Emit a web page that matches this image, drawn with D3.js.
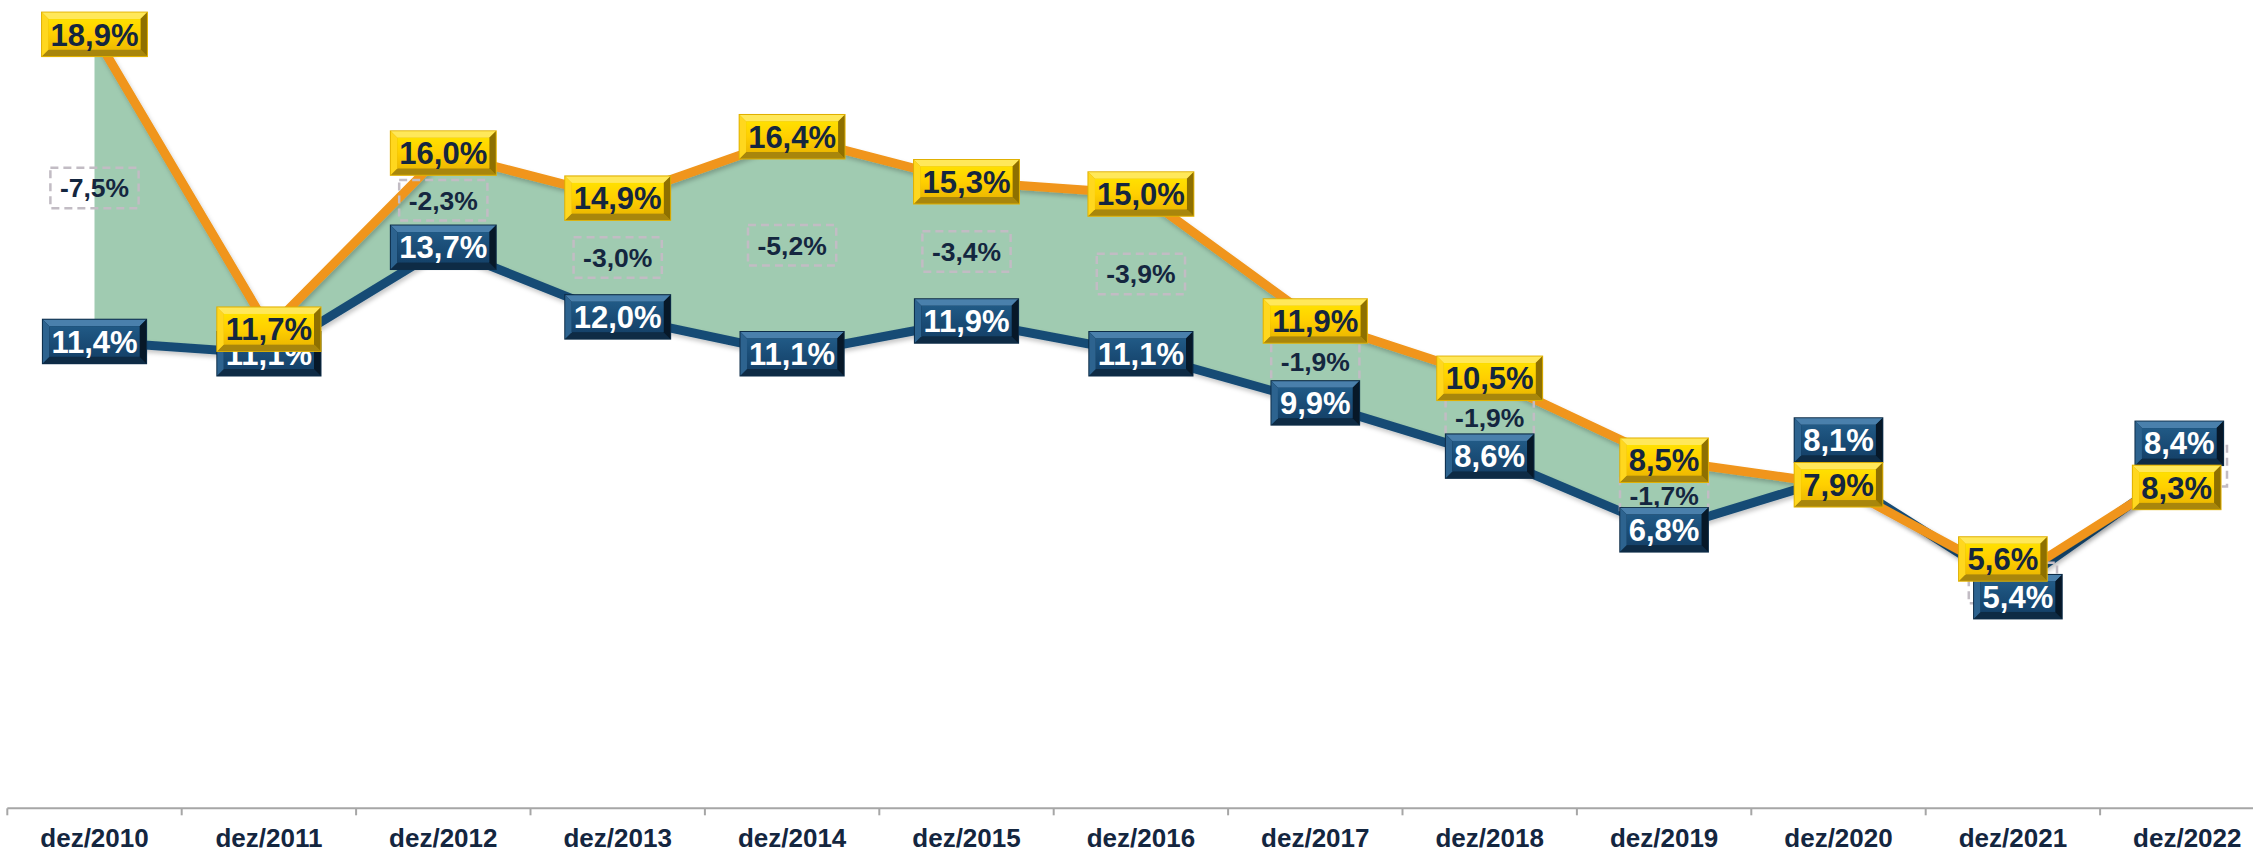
<!DOCTYPE html>
<html>
<head>
<meta charset="utf-8">
<script src="https://cdn.jsdelivr.net/npm/d3@7"></script>
<style>
  html, body { margin: 0; padding: 0; background: #ffffff; }
  svg { display: block; }
  text { font-family: "Liberation Sans", Arial, sans-serif; font-weight: bold; }
</style>
</head>
<body>
<svg id="chart" width="2253" height="851"></svg>
<script>
// ---------------- data ----------------
const categories = ["dez/2010","dez/2011","dez/2012","dez/2013","dez/2014","dez/2015","dez/2016",
                    "dez/2017","dez/2018","dez/2019","dez/2020","dez/2021","dez/2022"];
const seriesOrange = [18.9, 11.7, 16.0, 14.9, 16.4, 15.3, 15.0, 11.9, 10.5, 8.5, 7.9, 5.6, 8.3];
const seriesBlue   = [11.4, 11.1, 13.7, 12.0, 11.1, 11.9, 11.1,  9.9,  8.6, 6.8, 8.1, 5.4, 8.4];
const seriesDiff   = [-7.5, -0.6, -2.3, -3.0, -5.2, -3.4, -3.9, -1.9, -1.9, -1.7, 0.2, -0.2, 0.1];
const yDomain = [0, 20];

// manual label nudges (layout only, like dragged Excel labels), in px
const blueNudge   = {10: [0, -36.6], 11: [5, 9.5], 12: [-8, -21]};
const orangeNudge = {11: [-10, -20], 12: [-10.6, 19]};

// ---------------- layout ----------------
const W = 2253, H = 851;
const axisY = 808.3;
const svg = d3.select("#chart");

const x = d3.scaleBand().domain(categories).range([7.3, 7.3 + 174.4 * 13]).padding(0);
const y = d3.scaleLinear().domain(yDomain).range([axisY, axisY - 40.95 * 20]);
const cx = c => x(c) + x.bandwidth() / 2;

const fmt = v => d3.format(".1f")(v).replace("\u2212", "-").replace(".", ",") + "%";

const defs = svg.append("defs");
const sh = defs.append("filter").attr("id", "lineShadow")
  .attr("x", "-5%").attr("y", "-5%").attr("width", "110%").attr("height", "120%");
sh.append("feDropShadow").attr("dx", 1.5).attr("dy", 3).attr("stdDeviation", 2.2)
  .attr("flood-color", "#000").attr("flood-opacity", 0.22);

function grad(id, stops) {
  const g = defs.append("linearGradient").attr("id", id)
    .attr("x1", 0).attr("y1", 0).attr("x2", 0).attr("y2", 1);
  stops.forEach(([o, c]) => g.append("stop").attr("offset", o).attr("stop-color", c));
}
grad("goldFace", [[0, "#FFE000"], [0.5, "#FFCF00"], [1, "#EEBA00"]]);
grad("blueFace", [[0, "#215A86"], [0.5, "#1A4D77"], [1, "#15426A"]]);

const gold = {face: "url(#goldFace)", top: "#FFE85A", left: "#FFD71E", bottom: "#A8860C",
              right: "#8E7000", outline: "#E0B000", text: "#14263F"};
const blue = {face: "url(#blueFace)", top: "#4A80AC", left: "#2D638F", bottom: "#0E2B45",
              right: "#071828", outline: "#0C2C48", text: "#FFFFFF"};

// ---------------- axis ----------------
const axisG = svg.append("g").attr("transform", `translate(0,${axisY})`);
axisG.append("line").attr("x1", 7.3).attr("x2", W).attr("y1", 0).attr("y2", 0)
  .attr("stroke", "#A6A6A6").attr("stroke-width", 2);
const tickPos = d3.range(categories.length + 1).map(i => x.range()[0] + i * x.bandwidth())
  .filter(p => p <= W);
axisG.selectAll("line.tick").data(tickPos).join("line").attr("class", "tick")
  .attr("x1", d => d).attr("x2", d => d).attr("y1", 0).attr("y2", 7)
  .attr("stroke", "#A6A6A6").attr("stroke-width", 2);
svg.append("g").selectAll("text").data(categories).join("text")
  .attr("x", d => cx(d)).attr("y", 847)
  .attr("text-anchor", "middle").attr("font-size", 26).attr("fill", "#14263F")
  .text(d => d);

// ---------------- area between series ----------------
const pts = categories.map((c, i) => ({c, o: seriesOrange[i], b: seriesBlue[i], d: seriesDiff[i], i}));

const area = d3.area().x(d => cx(d.c)).y0(d => y(d.b)).y1(d => y(d.o));
svg.append("path").datum(pts).attr("d", area).attr("fill", "#A0CBB1");

// edge lines of the base area
const ends = [pts[0], pts[pts.length - 1]];
svg.append("g").selectAll("line").data(ends).join("line")
  .attr("x1", d => cx(d.c)).attr("x2", d => cx(d.c))
  .attr("y1", d => y(Math.max(d.o, d.b))).attr("y2", axisY)
  .attr("stroke", "#C4C4C4").attr("stroke-width", 2.5)
  .attr("filter", "url(#lineShadow)");

// ---------------- lines ----------------
const lineB = d3.line().x(d => cx(d.c)).y(d => y(d.b));
const lineO = d3.line().x(d => cx(d.c)).y(d => y(d.o));
svg.append("path").datum(pts).attr("d", lineB).attr("fill", "none")
  .attr("stroke", "#174C75").attr("stroke-width", 9).attr("stroke-linejoin", "round")
  .attr("filter", "url(#lineShadow)");
svg.append("path").datum(pts).attr("d", lineO).attr("fill", "none")
  .attr("stroke", "#F0951A").attr("stroke-width", 9).attr("stroke-linejoin", "round")
  .attr("filter", "url(#lineShadow)");

// ---------------- difference labels (dashed) ----------------
const diffG = svg.append("g");
pts.forEach(d => {
  const mx = cx(d.c), my = (y(d.o) + y(d.b)) / 2;
  const g = diffG.append("g");
  const t = g.append("text").attr("x", mx).attr("y", my).attr("dy", "0.36em")
    .attr("text-anchor", "middle").attr("font-size", 26.5).attr("fill", "#14263F")
    .text(fmt(d.d));
  const tw = t.node().getComputedTextLength();
  const bw = tw + 19, bh = 40.5;
  g.insert("rect", "text").attr("x", mx - bw / 2).attr("y", my - bh / 2)
    .attr("width", bw).attr("height", bh).attr("fill", "none")
    .attr("stroke", "#C2BCC4").attr("stroke-width", 2.5).attr("stroke-dasharray", "8,5");
});

// ---------------- bevel labels ----------------
function bevelLabel(parent, px, py, txt, pal) {
  const g = parent.append("g");
  const t = g.append("text").attr("x", px).attr("y", py).attr("dy", "0.36em")
    .attr("text-anchor", "middle").attr("font-size", 31).attr("fill", pal.text).text(txt);
  const tw = t.node().getComputedTextLength();
  const w = tw + 19, h = 45.5, b = 6.5;
  const x0 = px - w / 2, y0 = py - h / 2;
  const bg = g.insert("g", "text");
  bg.append("rect").attr("x", x0).attr("y", y0).attr("width", w).attr("height", h).attr("fill", pal.outline);
  const poly = (p, f) => bg.append("polygon").attr("points", p.map(q => q.join(",")).join(" ")).attr("fill", f);
  const X1 = x0 + 1, Y1 = y0 + 1, X2 = x0 + w - 1, Y2 = y0 + h - 1;
  poly([[X1, Y1], [X2, Y1], [X2 - b, Y1 + b], [X1 + b, Y1 + b]], pal.top);
  poly([[X1, Y2], [X2, Y2], [X2 - b, Y2 - b], [X1 + b, Y2 - b]], pal.bottom);
  poly([[X1, Y1], [X1 + b, Y1 + b], [X1 + b, Y2 - b], [X1, Y2]], pal.left);
  poly([[X2, Y1], [X2 - b, Y1 + b], [X2 - b, Y2 - b], [X2, Y2]], pal.right);
  bg.append("rect").attr("x", X1 + b).attr("y", Y1 + b).attr("width", (X2 - X1) - 2 * b)
    .attr("height", (Y2 - Y1) - 2 * b).attr("fill", pal.face);
}

const blueG = svg.append("g");
pts.forEach(d => {
  const n = blueNudge[d.i] || [0, 0];
  bevelLabel(blueG, cx(d.c) + n[0], y(d.b) + n[1], fmt(d.b), blue);
});
const orangeG = svg.append("g");
pts.forEach(d => {
  const n = orangeNudge[d.i] || [0, 0];
  bevelLabel(orangeG, cx(d.c) + n[0], y(d.o) + n[1], fmt(d.o), gold);
});
</script>
</body>
</html>
